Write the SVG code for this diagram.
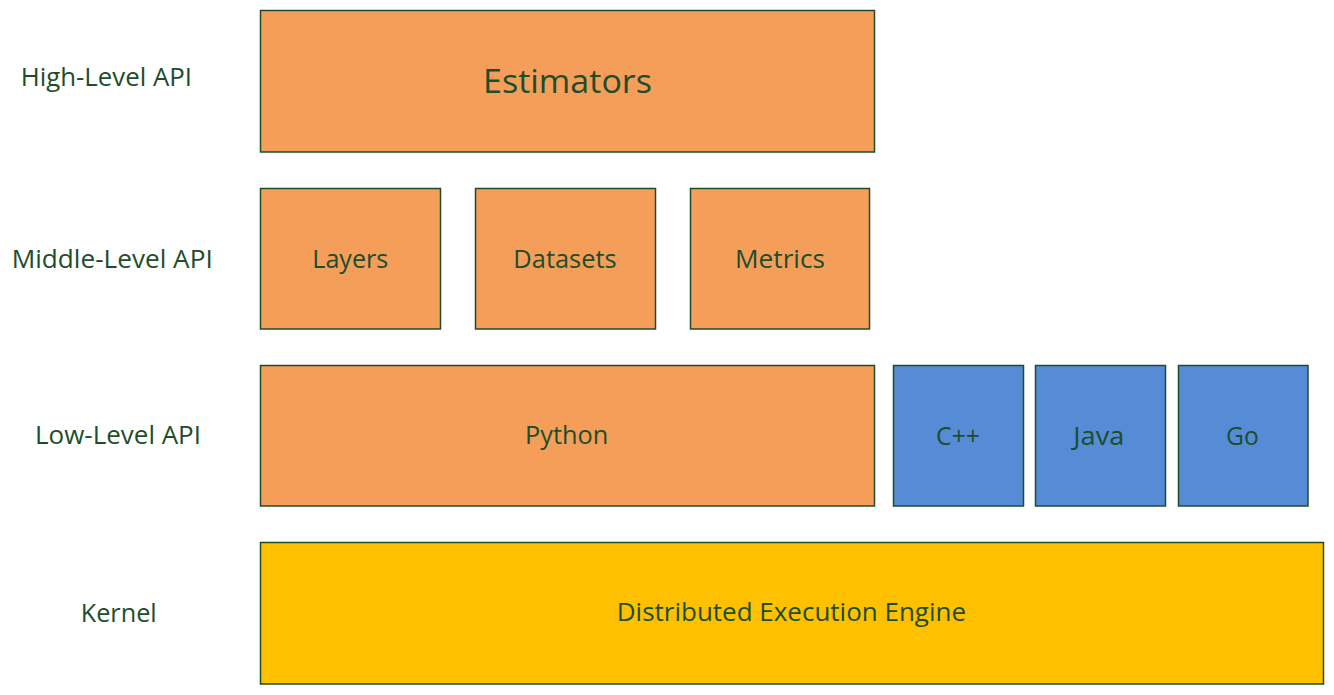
<svg xmlns="http://www.w3.org/2000/svg" width="1334" height="695" viewBox="0 0 1334 695">
<style>
text{font-family:"Open Sans","Noto Sans","Liberation Sans",sans-serif;fill:#1E4D2B;font-size:25px}
.lbl{text-anchor:middle}
.box rect{stroke:#1E4D2B;stroke-width:1.5}
.o{fill:#F49E5A}
.b{fill:#558CD5}
.y{fill:#FFC000}
</style>
<rect width="1334" height="695" fill="#FFFFFF"/>
<g id="layer-labels">
<text x="20.7" y="86" textLength="171.3" lengthAdjust="spacingAndGlyphs">High-Level API</text>
<text x="11.7" y="268.3" textLength="201" lengthAdjust="spacingAndGlyphs">Middle-Level API</text>
<text x="35" y="444.3" textLength="166" lengthAdjust="spacingAndGlyphs">Low-Level API</text>
<text x="80.7" y="621.5" textLength="76" lengthAdjust="spacingAndGlyphs">Kernel</text>
</g>
<g id="estimators" class="box"><rect class="o" x="260.5" y="10.5" width="614" height="141.5"/><text class="lbl" x="567.5" y="92.7" style="font-size:33px" textLength="169" lengthAdjust="spacingAndGlyphs">Estimators</text></g>
<g id="layers" class="box"><rect class="o" x="260.5" y="188.5" width="180" height="140.5"/><text class="lbl" x="350.3" y="268.3" textLength="76" lengthAdjust="spacingAndGlyphs">Layers</text></g>
<g id="datasets" class="box"><rect class="o" x="475.5" y="188.5" width="180" height="140.5"/><text class="lbl" x="565" y="268" textLength="103.4" lengthAdjust="spacingAndGlyphs">Datasets</text></g>
<g id="metrics" class="box"><rect class="o" x="690.5" y="188.5" width="179" height="140.5"/><text class="lbl" x="780" y="268" textLength="90" lengthAdjust="spacingAndGlyphs">Metrics</text></g>
<g id="python" class="box"><rect class="o" x="260.5" y="365.5" width="614" height="140.5"/><text class="lbl" x="566.7" y="443.5" textLength="83.3" lengthAdjust="spacingAndGlyphs">Python</text></g>
<g id="cpp" class="box"><rect class="b" x="893.5" y="365.5" width="130" height="140.5"/><text class="lbl" x="958" y="444.5" textLength="44" lengthAdjust="spacingAndGlyphs">C++</text></g>
<g id="java" class="box"><rect class="b" x="1035.5" y="365.5" width="130" height="140.5"/><text class="lbl" x="1098.8" y="444.5" textLength="51" lengthAdjust="spacingAndGlyphs">Java</text></g>
<g id="go" class="box"><rect class="b" x="1178.5" y="365.5" width="129.5" height="140.5"/><text class="lbl" x="1242.4" y="444.5" textLength="32.7" lengthAdjust="spacingAndGlyphs">Go</text></g>
<g id="engine" class="box"><rect class="y" x="260.5" y="542.5" width="1063" height="141.5"/><text class="lbl" x="791.4" y="620.7" textLength="349.3" lengthAdjust="spacingAndGlyphs">Distributed Execution Engine</text></g>
<g id="connectors"></g>
</svg>
